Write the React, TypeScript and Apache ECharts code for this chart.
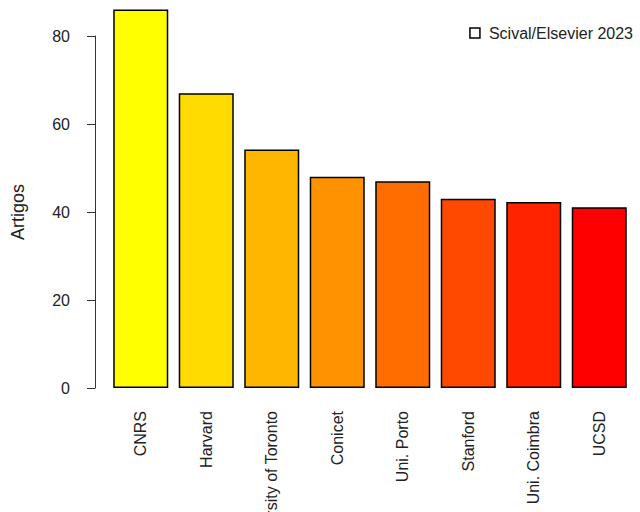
import React, { useEffect, useRef } from "react";
import * as echarts from "echarts";

const categories = ["CNRS", "Harvard", "University of Toronto", "Conicet", "Uni. Porto", "Stanford", "Uni. Coimbra", "UCSD"];
const articles = [86, 67, 54.2, 48, 47, 43, 42.3, 41.1];
const barColors = ["#FFFF00", "#FFDB00", "#FFB600", "#FF9200", "#FF6D00", "#FF4900", "#FF2400", "#FF0000"];
const yTicks = { min: 0, max: 80, interval: 20 };
const seriesName = "Scival/Elsevier 2023";
const yName = "Artigos";

const FONT = "Liberation Sans, Arial, sans-serif";

export default function App() {
  const ref = useRef<HTMLDivElement>(null);
  useEffect(() => {
    if (!ref.current) return;
    const chart = echarts.init(ref.current, undefined, { renderer: "svg" });
    chart.setOption({
      animation: false,
      backgroundColor: "#ffffff",
      textStyle: { fontFamily: FONT },
      legend: {
        right: 2,
        top: 20,
        itemWidth: 10,
        itemHeight: 10,
        itemGap: 8,
        textStyle: { fontFamily: FONT, fontSize: 16, color: "#222", padding: [0, 0, 0, 4] },
        data: [
          {
            name: seriesName,
            icon: "rect",
            itemStyle: { color: "#ffffff", borderColor: "#000000", borderWidth: 1.5 },
          },
        ],
      },
      grid: { left: 108, right: 8, top: 36, bottom: 124, containLabel: false, outerBoundsMode: "none" },
      xAxis: {
        type: "category",
        data: categories,
        axisLine: { show: false },
        axisTick: { show: false },
        axisLabel: {
          rotate: 90,
          margin: 23,
          interval: 0,
          fontFamily: FONT,
          fontSize: 16,
          color: "#222",
        },
      },
      yAxis: {
        type: "value",
        min: yTicks.min,
        max: yTicks.max,
        interval: yTicks.interval,
        offset: 13,
        name: yName,
        nameLocation: "middle",
        nameGap: 68,
        nameTextStyle: { fontFamily: FONT, fontSize: 18, color: "#222" },
        splitLine: { show: false },
        axisLine: { show: true, lineStyle: { color: "#333", width: 1 } },
        axisTick: { show: true, length: 8, lineStyle: { color: "#333", width: 1 } },
        axisLabel: { margin: 25, fontFamily: FONT, fontSize: 16, color: "#222" },
      },
      series: [
        {
          name: seriesName,
          type: "bar",
          clip: false,
          barCategoryGap: "16%",
          data: articles.map((v, i) => ({
            value: v,
            itemStyle: { color: barColors[i], borderColor: "#000", borderWidth: 1.5 },
          })),
        },
      ],
    });
    return () => chart.dispose();
  }, []);
  return (
    <div
      ref={ref}
      style={{ position: "fixed", left: 0, top: 0, width: 640, height: 512 }}
    />
  );
}
